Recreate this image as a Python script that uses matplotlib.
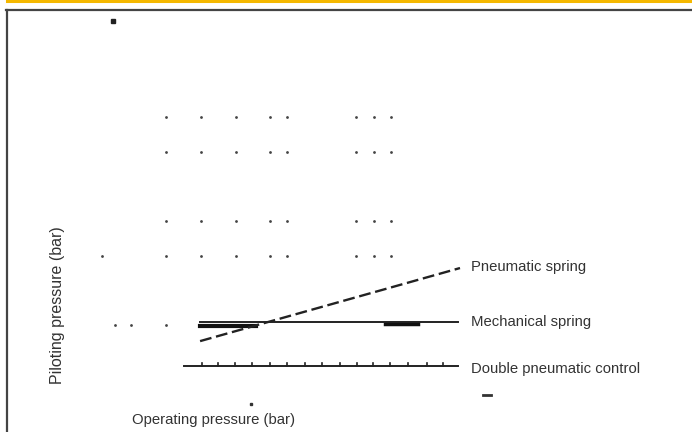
import matplotlib.pyplot as plt
from matplotlib.lines import Line2D

plt.rcParams['font.family'] = ['Liberation Sans', 'DejaVu Sans']

# grid of pilot/operating pressure sample points (bar)
grid_x = [1.83, 2.81, 3.78, 4.72, 5.19, 7.11, 7.61, 8.08]
grid_y = [7.31, 6.33, 4.42, 3.44]
extra_x = [0.06, 0.42, 0.86, 1.83]
extra_y = [3.44, 1.53, 1.53, 1.53]

# curves
double_x = [2.33, 9.94]
double_y = [0.39, 0.39]
double_ticks = [2.83, 3.28, 3.75, 4.21, 4.72, 5.19, 5.69, 6.16, 6.67, 7.13,
                7.58, 8.06, 8.56, 9.07, 9.53]
mech_x = [2.78, 9.94]
mech_y = [1.60, 1.60]
mech_bar1_x = [2.78, 4.33]
mech_bar1_y = [1.49, 1.49]
mech_bar2_x = [7.92, 8.83]
mech_bar2_y = [1.56, 1.56]
pneu_x = [2.78, 10.0]
pneu_y = [1.08, 3.11]

labels = ['Pneumatic spring', 'Mechanical spring', 'Double pneumatic control']
label_y = [3.13, 1.62, 0.31]

fig = plt.figure(figsize=(6.92, 4.32), dpi=100)
ax = fig.add_axes([100/692, 52/432, 360/692, 360/432])
ax.set_xlim(0, 10)
ax.set_ylim(0, 10)
ax.axis('off')

gx = [x for y in grid_y for x in grid_x]
gy = [y for y in grid_y for x in grid_x]
ax.scatter(gx, gy, s=4, color='#444444', lw=0, clip_on=False)
ax.scatter(extra_x, extra_y, s=4, color='#444444', lw=0, clip_on=False)

# stray marks
ax.plot([0.36], [9.97], marker='s', ms=3.5, color='#222222', clip_on=False)
ax.plot([4.19], [-0.67], marker='s', ms=2, color='#333333', clip_on=False)
ax.plot([10.65, 10.85], [-0.42, -0.42], color='#333333', lw=2, clip_on=False)

# double pneumatic control
ax.plot(double_x, double_y, color='#222222', lw=1.4, clip_on=False)
for t in double_ticks:
    ax.plot([t, t], [0.39, 0.47], color='#222222', lw=1.2, clip_on=False)

# mechanical spring
ax.plot(mech_x, mech_y, color='#222222', lw=1.4, clip_on=False)
ax.plot(mech_bar1_x, mech_bar1_y, color='#111111', lw=3, clip_on=False)
ax.plot(mech_bar2_x, mech_bar2_y, color='#111111', lw=2.5, clip_on=False)

# pneumatic spring
ax.plot(pneu_x, pneu_y, color='#222222', lw=1.7, dashes=(5, 2), clip_on=False)

for lab, y in zip(labels, label_y):
    ax.text(10.31, y, lab, fontsize=10.7, color='#333333', va='center', ha='left',
            clip_on=False)

ax.text(-1.19, 2.08, 'Piloting pressure (bar)', fontsize=11.5, color='#333333',
        rotation=90, va='center', ha='center')
ax.text(3.14, -1.11, 'Operating pressure (bar)', fontsize=10.7, color='#333333',
        va='center', ha='center')

# frame
fig.add_artist(Line2D([7/692, 1], [1 - 1/432, 1 - 1/432], color='#F5B800', lw=2.2))
fig.add_artist(Line2D([6/692, 1], [1 - 10/432, 1 - 10/432], color='#444444', lw=1.6))
fig.add_artist(Line2D([7/692, 7/692], [0, 1 - 10/432], color='#444444', lw=1.6))

fig.savefig('out.png', dpi=100)
